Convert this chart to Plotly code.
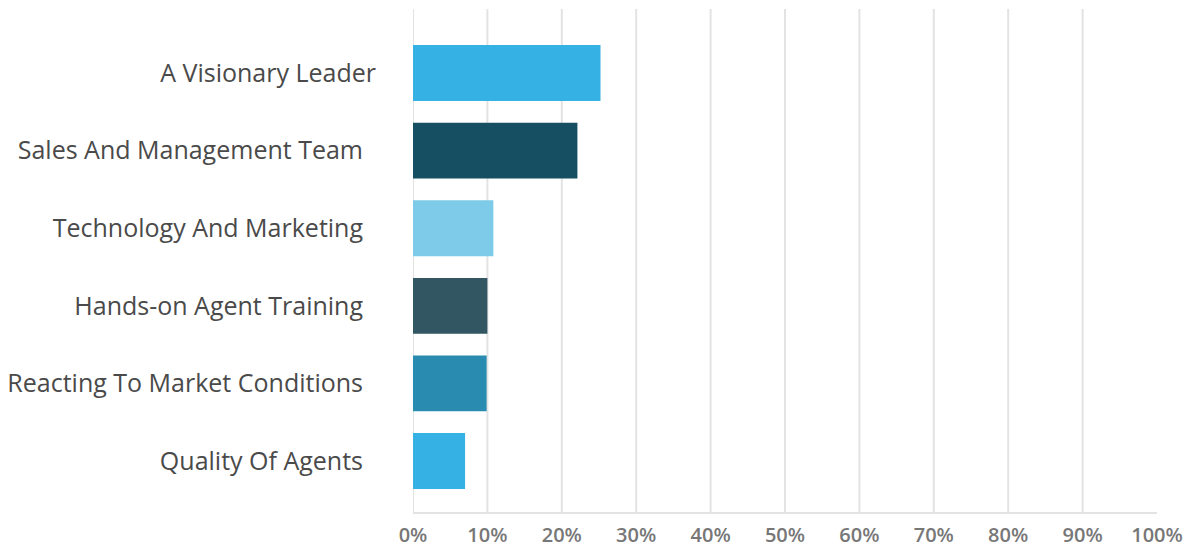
import plotly.graph_objects as go

# Survey results: share of respondents per factor (percent)
categories = [
    "A Visionary Leader",
    "Sales And Management Team",
    "Technology And Marketing",
    "Hands-on Agent Training",
    "Reacting To Market Conditions",
    "Quality Of Agents",
]
values = [25.2, 22.1, 10.8, 10.0, 9.9, 7.0]
bar_colors = ["#35B2E3", "#174F62", "#7DCBE8", "#325662", "#288BAF", "#35B2E3"]
# Labels as displayed on the category axis (the lower ones carry trailing padding)
label_text = [
    "A Visionary Leader",
    "Sales And Management Team\u00a0\u00a0",
    "Technology And Marketing\u00a0\u00a0",
    "Hands-on Agent Training\u00a0\u00a0",
    "Reacting To Market Conditions\u00a0\u00a0",
    "Quality Of Agents\u00a0\u00a0",
]
x_ticks = list(range(0, 101, 10))
x_tick_text = [f"{v}%" for v in x_ticks]
grid_vals = x_ticks[:-1]

fig = go.Figure(
    go.Bar(
        x=values,
        y=categories,
        orientation="h",
        marker=dict(color=bar_colors, line=dict(width=0)),
        width=0.72,
        hoverinfo="x+y",
    )
)

# Vertical gridlines drawn in data space behind the bars
for g in grid_vals:
    fig.add_shape(
        type="line", xref="x", yref="paper", x0=g, x1=g, y0=0, y1=1,
        line=dict(color="#E3E3E3", width=2), layer="below",
    )

fig.update_layout(
    width=1194,
    height=550,
    margin=dict(l=412.5, r=36.5, t=9, b=38),
    paper_bgcolor="white",
    plot_bgcolor="white",
    showlegend=False,
    font=dict(family="Open Sans", color="#4A4A4A"),
    xaxis=dict(
        range=[0, 100],
        tickvals=x_ticks,
        ticktext=x_tick_text,
        showgrid=False,
        zeroline=False,
        showline=True,
        linecolor="#E3E3E3",
        linewidth=2,
        ticks="",
        automargin=False,
        ticklabelstandoff=4,
        tickfont=dict(family="Open Sans", size=20, color="#777777", weight=600),
        fixedrange=True,
    ),
    yaxis=dict(
        type="category",
        categoryorder="array",
        categoryarray=categories,
        tickvals=categories,
        ticktext=label_text,
        range=[5.657, -0.825],
        showgrid=False,
        zeroline=False,
        showline=False,
        ticks="",
        automargin=False,
        ticklabelstandoff=36,
        tickfont=dict(family="Open Sans", size=25, color="#4A4A4A"),
        fixedrange=True,
    ),
)

fig.write_html("out.html")
